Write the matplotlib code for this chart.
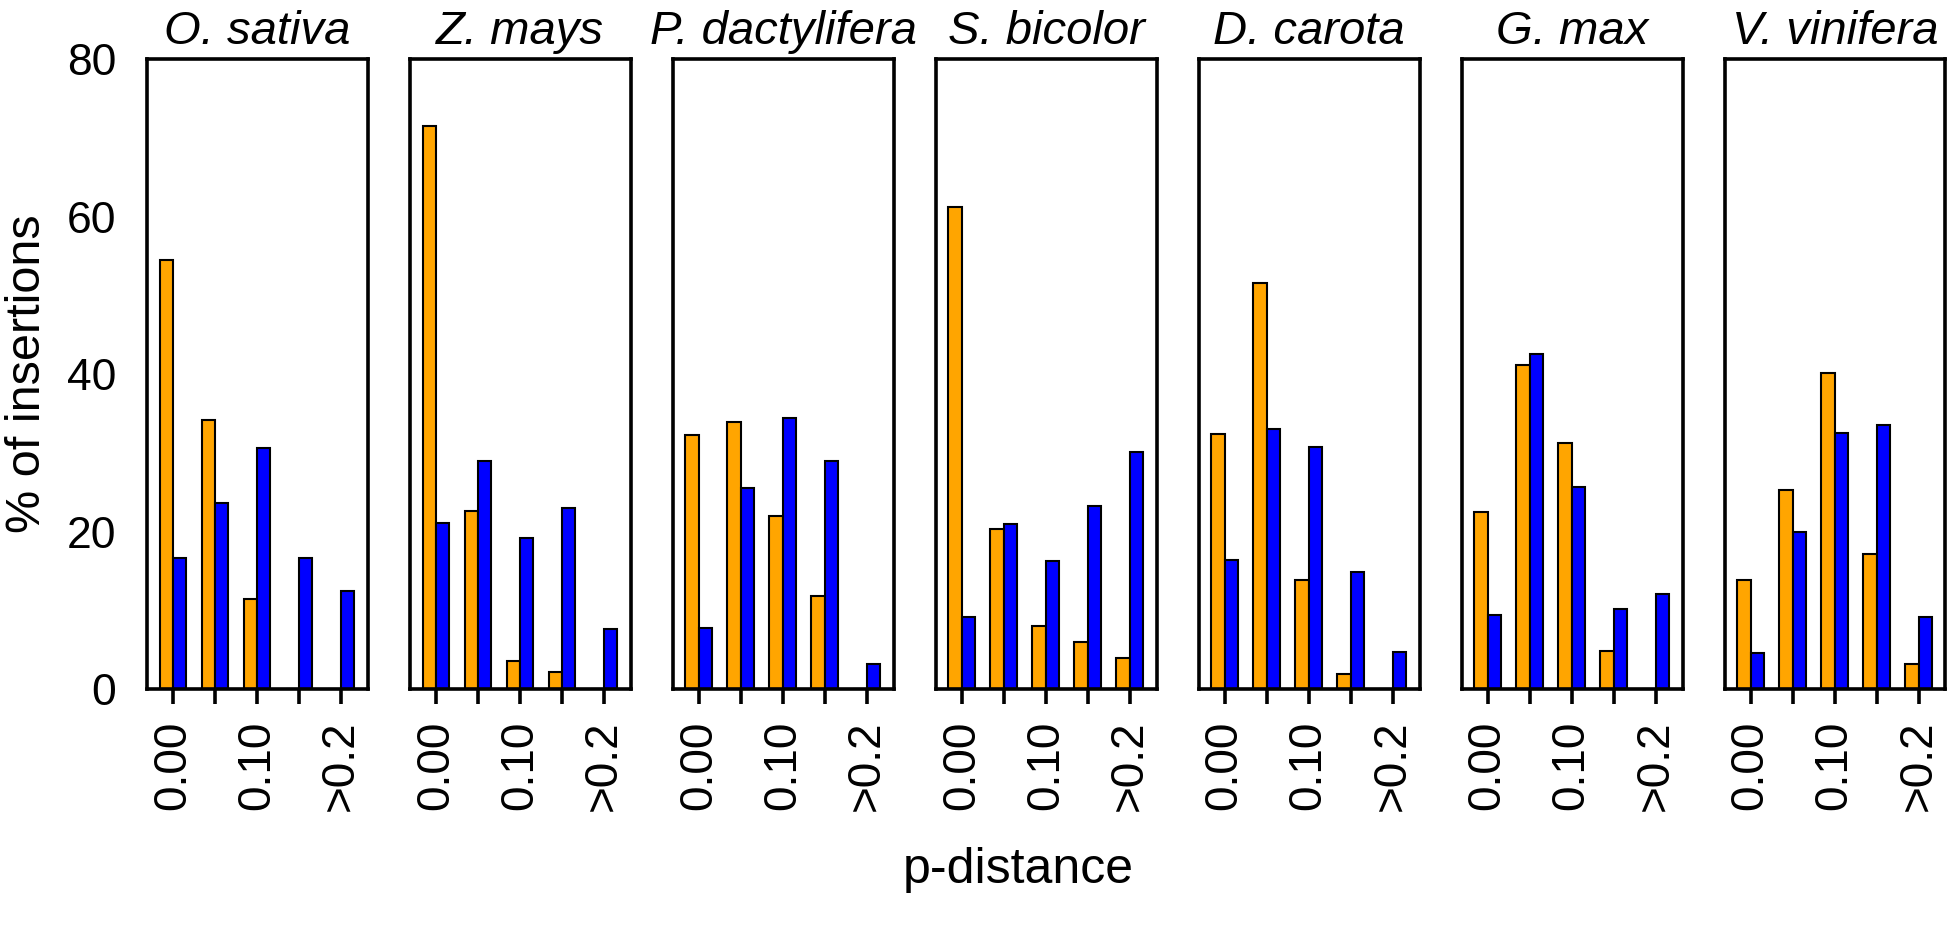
import numpy as np
import matplotlib
matplotlib.use("Agg")
import matplotlib.pyplot as plt

plt.rcParams['font.family'] = ['Liberation Sans', 'DejaVu Sans']

species = ["O. sativa", "Z. mays", "P. dactylifera", "S. bicolor",
           "D. carota", "G. max", "V. vinifera"]
bins = ["0.00", "", "0.10", "", ">0.2"]

# orange series (per species, 5 p-distance bins)
orange_vals = [
    [54.5, 34.1, 11.4, 0.0, 0.0],
    [71.5, 22.6, 3.5, 2.2, 0.0],
    [32.3, 33.9, 22.0, 11.8, 0.0],
    [61.2, 20.3, 8.0, 6.0, 4.0],
    [32.4, 51.6, 13.8, 1.9, 0.0],
    [22.5, 41.1, 31.3, 4.8, 0.0],
    [13.8, 25.3, 40.1, 17.1, 3.2],
]
# blue series
blue_vals = [
    [16.6, 23.6, 30.6, 16.6, 12.4],
    [21.1, 28.9, 19.2, 23.0, 7.6],
    [7.7, 25.5, 34.4, 28.9, 3.2],
    [9.2, 20.9, 16.2, 23.2, 30.1],
    [16.4, 33.0, 30.7, 14.9, 4.7],
    [9.4, 42.6, 25.7, 10.1, 12.1],
    [4.6, 19.9, 32.5, 33.5, 9.2],
]

fig, axes = plt.subplots(1, 7, figsize=(19.47, 9.32), dpi=100, sharey=True)
fig.subplots_adjust(left=0.0755, right=0.9992, top=0.9367, bottom=0.2607, wspace=0.19)

x = np.arange(len(bins))
w = 0.32
for i, ax in enumerate(axes):
    ax.bar(x - w/2, orange_vals[i], w, color="orange", edgecolor="black", linewidth=1.5)
    ax.bar(x + w/2, blue_vals[i], w, color="blue", edgecolor="black", linewidth=1.5)
    ax.set_xlim(-0.62, 4.64)
    ax.set_ylim(0, 80)
    ax.set_xticks(x)
    ax.set_xticklabels(bins, rotation=90, fontsize=33)
    ax.tick_params(axis="x", length=11, width=2.6, pad=12)
    ax.set_title(species[i], fontsize=34, style="italic", pad=11)
    for s in ax.spines.values():
        s.set_linewidth(2.6)
    if i == 0:
        ax.set_yticks([0, 20, 40, 60, 80])
        ax.tick_params(axis="y", length=0, pad=22, labelsize=32)
        ax.set_ylabel("% of insertions", fontsize=35, labelpad=12)
    else:
        ax.tick_params(axis="y", left=False, labelleft=False)

fig.text(0.523, 0.067, "p-distance", ha="center", va="center", fontsize=36)

fig.savefig("out.png", dpi=100)
